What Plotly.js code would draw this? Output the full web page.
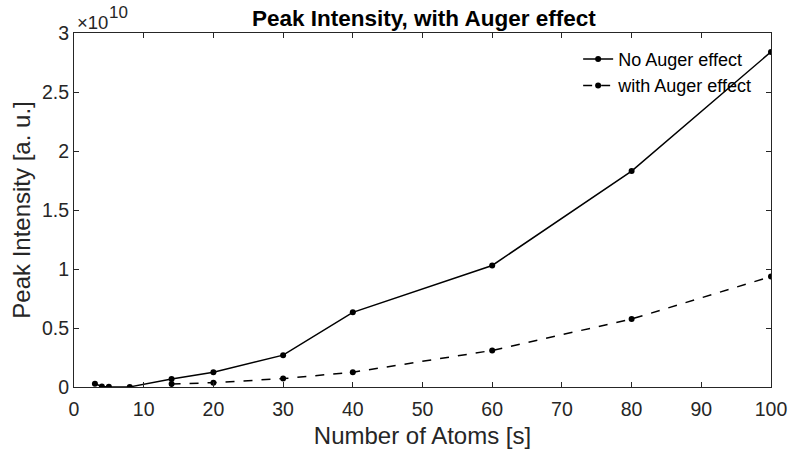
<!DOCTYPE html>
<html>
<head>
<meta charset="utf-8">
<script src="https://cdn.plot.ly/plotly-3.0.1.min.js"></script>
<style>html,body{margin:0;padding:0;background:#fff;}#chart{width:791px;height:455px;}</style>
</head>
<body>
<div id="chart"></div>
<script>
const atomsNoAuger = [3, 4, 5, 8, 14, 20, 30, 40, 60, 80, 100];
const intensityNoAuger = [0.028e10, 0.005e10, 0.003e10, 0.001e10, 0.068e10, 0.125e10, 0.27e10, 0.633e10, 1.03e10, 1.83e10, 2.84e10];
const atomsAuger = [14, 20, 30, 40, 60, 80, 100];
const intensityAuger = [0.025e10, 0.037e10, 0.071e10, 0.125e10, 0.31e10, 0.576e10, 0.936e10];
const yTickVals = [0, 0.5e10, 1e10, 1.5e10, 2e10, 2.5e10, 3e10];
const yTickText = ['0', '0.5', '1', '1.5', '2', '2.5', '3'];
const xTickVals = [0, 10, 20, 30, 40, 50, 60, 70, 80, 90, 100];

const font = 'Liberation Sans, Arial, Helvetica, sans-serif';
const traces = [
  {x: atomsNoAuger, y: intensityNoAuger, name: 'No Auger effect', mode: 'lines+markers',
   line: {color: '#000', width: 1.5}, marker: {color: '#000', size: 6}},
  {x: atomsAuger, y: intensityAuger, name: 'with Auger effect', mode: 'lines+markers',
   line: {color: '#000', width: 1.5, dash: 'dash'}, marker: {color: '#000', size: 6}}
];
const axisCommon = {showgrid: false, zeroline: false, showline: true, mirror: 'ticks', linecolor: '#262626',
  linewidth: 1, ticks: 'inside', ticklen: 5, tickcolor: '#262626',
  tickfont: {family: font, size: 19.5, color: '#262626'}};
const layout = {
  width: 791, height: 455,
  margin: {l: 74, r: 20, t: 33, b: 68},
  paper_bgcolor: '#fff', plot_bgcolor: '#fff',
  title: {text: '<b>Peak Intensity, with Auger effect</b>', font: {family: font, size: 22.5, color: '#000'},
          x: 0.502, xanchor: 'center', xref: 'paper', yref: 'container', y: 0.96, yanchor: 'middle'},
  xaxis: Object.assign({}, axisCommon, {range: [0, 100], tickvals: xTickVals, ticklabelstandoff: 5,
    title: {text: 'Number of Atoms [s]', font: {family: font, size: 24, color: '#262626'}, standoff: 7}}),
  yaxis: Object.assign({}, axisCommon, {range: [0, 3e10], tickvals: yTickVals, ticktext: yTickText,
    title: {text: 'Peak Intensity [a. u.]', font: {family: font, size: 24, color: '#262626'}, standoff: 4}}),
  showlegend: true,
  legend: {x: 0.7233, xanchor: 'left', y: 0.978, yanchor: 'top', bgcolor: 'rgba(255,255,255,0)',
    borderwidth: 0, font: {family: font, size: 18, color: '#000'}, itemwidth: 30, tracegroupgap: 0},
  annotations: [
    {text: '×10', xref: 'paper', yref: 'paper', x: 0, y: 1.031, xanchor: 'left', yanchor: 'middle',
     xshift: 1, showarrow: false, font: {family: font, size: 18.5, color: '#262626'}},
    {text: '10', xref: 'paper', yref: 'paper', x: 0, y: 1.0573, xanchor: 'left', yanchor: 'middle',
     xshift: 33, showarrow: false, font: {family: font, size: 17, color: '#262626'}}
  ]
};
Plotly.newPlot('chart', traces, layout, {displayModeBar: false, staticPlot: true});
</script>
</body>
</html>
